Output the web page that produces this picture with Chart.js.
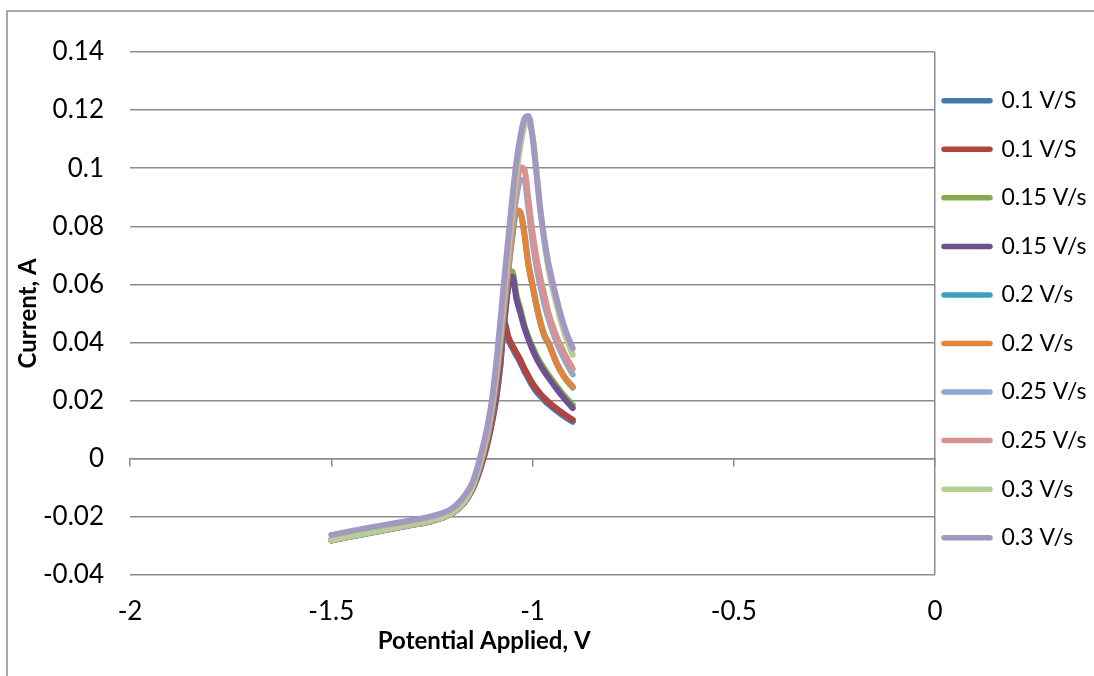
<!DOCTYPE html>
<html>
<head>
<meta charset="utf-8">
<title>Voltametria</title>
<script src="https://cdn.jsdelivr.net/npm/chart.js@4.4.1/dist/chart.umd.min.js"></script>
<style>
  html, body { margin: 0; padding: 0; background: #fff; }
  #grafica { display: block; }
</style>
</head>
<body>
<canvas id="grafica" width="1094" height="676"></canvas>
<script>
// --- DATOS ---
const potencial = [-1.5, -1.4, -1.3, -1.25, -1.2, -1.17, -1.15, -1.14, -1.13, -1.12, -1.11, -1.10, -1.09, -1.08,
  -1.07, -1.06, -1.05, -1.04, -1.03, -1.02, -1.01, -1.0, -0.99, -0.98, -0.97, -0.96, -0.94, -0.92, -0.9];

const etiquetas = ['0.1 V/S', '0.1 V/S', '0.15 V/s', '0.15 V/s', '0.2 V/s', '0.2 V/s', '0.25 V/s', '0.25 V/s', '0.3 V/s', '0.3 V/s'];

const corriente01a = [-0.0282, -0.0255, -0.0229, -0.0215, -0.0189, -0.0153, -0.0109, -0.0077, -0.0037, 0.0008, 0.0063, 0.0128, 0.0208, 0.0318,
  0.046, 0.041, 0.038, 0.0355, 0.033, 0.030, 0.0275, 0.025, 0.023, 0.0215, 0.020, 0.0187, 0.0164, 0.0144, 0.0127];
const corriente01b = [-0.0281, -0.0254, -0.0228, -0.0214, -0.0188, -0.0152, -0.0108, -0.0075, -0.0035, 0.001, 0.0065, 0.013, 0.021, 0.032,
  0.047, 0.042, 0.039, 0.0365, 0.034, 0.031, 0.0285, 0.026, 0.024, 0.0223, 0.0208, 0.0195, 0.0172, 0.0152, 0.0134];
const corriente015a = [-0.0281, -0.0254, -0.0228, -0.0214, -0.0188, -0.0150, -0.0105, -0.007, -0.0025, 0.0025, 0.008, 0.015, 0.024, 0.035,
  0.047, 0.060, 0.0644, 0.0565, 0.0515, 0.0458, 0.0418, 0.0385, 0.0355, 0.033, 0.0308, 0.0288, 0.025, 0.0215, 0.0185];
const corriente015b = [-0.0281, -0.0254, -0.0228, -0.0214, -0.0188, -0.0150, -0.0105, -0.007, -0.0025, 0.0025, 0.008, 0.015, 0.024, 0.035,
  0.047, 0.059, 0.0627, 0.055, 0.050, 0.045, 0.041, 0.0375, 0.0345, 0.032, 0.0298, 0.0278, 0.024, 0.0205, 0.0174];
const corriente02a = [-0.0281, -0.0254, -0.0228, -0.0214, -0.0188, -0.0150, -0.0103, -0.0065, -0.002, 0.003, 0.009, 0.017, 0.027, 0.039,
  0.052, 0.065, 0.0765, 0.085, 0.0845, 0.077, 0.0665, 0.0595, 0.0525, 0.0465, 0.042, 0.0395, 0.0328, 0.0278, 0.0245];
const corriente02b = [-0.0281, -0.0254, -0.0228, -0.0214, -0.0188, -0.0150, -0.0103, -0.0065, -0.002, 0.003, 0.009, 0.017, 0.027, 0.039,
  0.052, 0.065, 0.077, 0.0855, 0.085, 0.0775, 0.067, 0.060, 0.053, 0.047, 0.0425, 0.040, 0.033, 0.028, 0.0248];
const corriente025a = [-0.0281, -0.0254, -0.0228, -0.0214, -0.0188, -0.0150, -0.0100, -0.006, -0.0015, 0.004, 0.010, 0.018, 0.029, 0.042,
  0.055, 0.068, 0.080, 0.090, 0.096, 0.0955, 0.086, 0.075, 0.066, 0.059, 0.053, 0.048, 0.040, 0.034, 0.029];
const corriente025b = [-0.0281, -0.0254, -0.0228, -0.0214, -0.0188, -0.0150, -0.0100, -0.006, -0.0015, 0.004, 0.010, 0.018, 0.029, 0.042,
  0.056, 0.069, 0.082, 0.093, 0.1003, 0.0995, 0.089, 0.078, 0.069, 0.062, 0.056, 0.050, 0.042, 0.036, 0.031];
const corriente03a = [-0.0280, -0.0253, -0.0226, -0.0212, -0.0186, -0.0147, -0.0098, -0.0058, -0.001, 0.0045, 0.011, 0.019, 0.030, 0.043,
  0.058, 0.072, 0.086, 0.098, 0.108, 0.1145, 0.116, 0.111, 0.099, 0.085, 0.074, 0.065, 0.053, 0.043, 0.0357];
const corriente03b = [-0.0263, -0.0236, -0.0212, -0.0198, -0.0172, -0.0130, -0.0085, -0.0045, 0.0005, 0.006, 0.0125, 0.021, 0.033, 0.047,
  0.062, 0.076, 0.090, 0.102, 0.111, 0.117, 0.118, 0.111, 0.098, 0.085, 0.075, 0.067, 0.055, 0.045, 0.038];

const series = [corriente01a, corriente01b, corriente015a, corriente015b, corriente02a,
  corriente02b, corriente025a, corriente025b, corriente03a, corriente03b];

const colores = ['#4775b0', '#b0443f', '#8aa94d', '#6c5290', '#3f9fba', '#e2843a', '#8fa8d1', '#d69391', '#b6cd93', '#a398c1'];

const tituloX = 'Potential Applied, V';
const tituloY = 'Current, A';

// --- PLUGIN: marco del grafico y titulo del eje X ---
const marcoYTitulo = {
  id: 'marcoYTitulo',
  beforeDraw(chart) {
    const ctx = chart.ctx;
    ctx.save();
    ctx.strokeStyle = '#8c8c8c';
    ctx.lineWidth = 1.5;
    ctx.beginPath();
    ctx.moveTo(7, chart.height);
    ctx.lineTo(7, 11);
    ctx.lineTo(chart.width, 11);
    ctx.stroke();
    ctx.restore();
  },
  afterDraw(chart) {
    const { ctx, chartArea } = chart;
    ctx.save();
    ctx.font = 'bold 24px Lato';
    ctx.fillStyle = '#000';
    ctx.textAlign = 'center';
    ctx.textBaseline = 'middle';
    ctx.fillText(tituloX, chartArea.left + (chartArea.right - chartArea.left) * 0.44, chartArea.bottom + 66);
    ctx.restore();
  }
};

Chart.defaults.font.family = 'Lato';
Chart.defaults.color = '#000';

const datasets = etiquetas.map((label, i) => ({
  label: label,
  data: potencial.map((x, j) => ({ x: x, y: series[i][j] })),
  borderColor: colores[i],
  backgroundColor: colores[i],
  borderWidth: 6,
  borderCapStyle: 'round',
  borderJoinStyle: 'round',
  pointRadius: 0,
  pointHoverRadius: 0,
  cubicInterpolationMode: 'monotone',
  order: etiquetas.length - 1 - i, // la ultima serie queda encima
  xAxisID: 'x',
  yAxisID: 'y'
}));

const gris = '#8c8c8c';

new Chart(document.getElementById('grafica').getContext('2d'), {
  type: 'line',
  data: { datasets: datasets },
  plugins: [marcoYTitulo],
  options: {
    responsive: false,
    animation: false,
    layout: { padding: { left: 10, top: 52, right: 0, bottom: 28 } },
    plugins: {
      tooltip: { enabled: false },
      legend: {
        position: 'right',
        align: 'end',
        fullSize: false,
        maxWidth: 159,
        labels: {
          usePointStyle: true,
          pointStyle: 'line',
          pointStyleWidth: 46,
          padding: 9,
          color: '#000',
          font: { family: 'Lato', size: 23, lineHeight: 1.72 },
          sort: (a, b) => a.datasetIndex - b.datasetIndex,
          generateLabels: (chart) => Chart.defaults.plugins.legend.labels.generateLabels(chart)
            .map(item => ({ ...item, text: [item.text], lineCap: 'round', lineWidth: 5.5 }))
        }
      }
    },
    scales: {
      // eje en y = 0 con marcas hacia abajo, y la linea vertical en x = 0
      x: {
        type: 'linear',
        position: { y: 0 },
        min: -2,
        max: 0,
        ticks: { stepSize: 0.5, display: false },
        grid: {
          drawOnChartArea: true,
          drawTicks: true,
          tickLength: 7,
          lineWidth: 1.5,
          tickColor: gris,
          color: (c) => (c.tick && c.tick.value === 0 ? gris : 'rgba(0,0,0,0)')
        },
        border: { display: true, color: gris, width: 1.5 }
      },
      // etiquetas del eje X abajo
      xl: {
        type: 'linear',
        position: 'bottom',
        axis: 'x',
        min: -2,
        max: 0,
        ticks: {
          stepSize: 0.5,
          padding: 21,
          font: { size: 26 },
          callback: (v) => String(+v.toFixed(1))
        },
        grid: { display: false, drawTicks: false },
        border: { display: false }
      },
      y: {
        type: 'linear',
        position: 'left',
        min: -0.04,
        max: 0.14,
        afterFit: (scale) => { scale.width = 120; },
        ticks: {
          stepSize: 0.02,
          padding: 26,
          font: { size: 26 },
          callback: (v) => String(+v.toFixed(2))
        },
        grid: { color: gris, lineWidth: 1.5, drawTicks: false },
        border: { display: false },
        title: {
          display: true,
          text: tituloY,
          font: { size: 24, weight: 'bold' },
          padding: { top: 4, bottom: 0 }
        }
      }
    }
  }
});
</script>
</body>
</html>
